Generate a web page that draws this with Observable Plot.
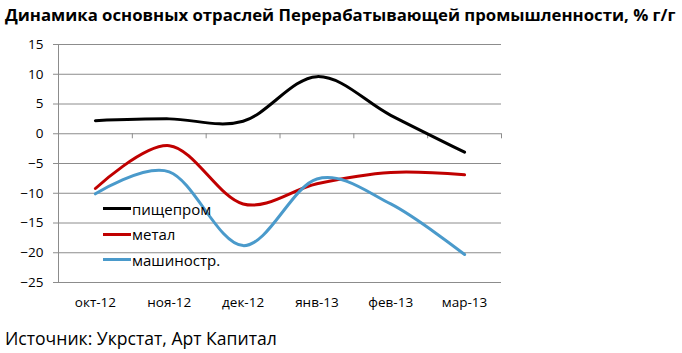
<!DOCTYPE html>
<html>
<head>
<meta charset="utf-8">
<script src="https://cdn.jsdelivr.net/npm/d3@7"></script>
<script src="https://cdn.jsdelivr.net/npm/@observablehq/plot@0.6"></script>
<style>
  body { margin: 0; background: #fff; width: 682px; height: 353px; overflow: hidden; position: relative; font-family: "Open Sans", "Noto Sans", sans-serif; }
  #title { position: absolute; left: 5px; top: 3px; font-weight: bold; font-size: 16px; white-space: nowrap; color: #000; }
  #chart { position: absolute; left: 0; top: 30px; }
  #caption { position: absolute; left: 5px; top: 326px; font-size: 15px; white-space: nowrap; color: #000; }
  #legend { position: absolute; left: 103px; top: 196px; font-size: 15px; color: #000; }
  #legend .row { display: flex; align-items: center; height: 25.5px; }
  #legend .sw { width: 28px; height: 3px; margin-right: 1px; }
</style>
</head>
<body>
<div id="title">Динамика основных отраслей Перерабатывающей промышленности, % г/г</div>
<div id="chart"></div>
<div id="legend"></div>
<div id="caption">Источник: Укрстат, Арт Капитал</div>
<script>
const categories = ["окт-12", "ноя-12", "дек-12", "янв-13", "фев-13", "мар-13"];
const seriesNames = ["пищепром", "метал", "машиностр."];
const pishcheprom = [2.2, 2.5, 2.1, 9.6, 3.1, -3.1];
const metal = [-9.2, -2.0, -11.8, -8.4, -6.5, -6.9];
const mashinostr = [-10.1, -6.4, -18.8, -7.6, -11.8, -20.3];
const yTicks = [15, 10, 5, 0, -5, -10, -15, -20, -25];
const colors = ["#000000", "#C00000", "#4A9ACB"];

const seriesValues = [pishcheprom, metal, mashinostr];
const data = [];
seriesNames.forEach((s, k) => seriesValues[k].forEach((v, i) => data.push({series: s, i, value: v})));
const boundaries = d3.range(-0.5, categories.length, 1);
const idx = d3.range(categories.length);

const plot = Plot.plot({
  width: 682,
  height: 290,
  marginLeft: 58,
  marginRight: 181,
  marginTop: 14,
  marginBottom: 38,
  style: {fontFamily: "'Open Sans', 'Noto Sans', sans-serif", fontSize: "13.5px", color: "#000", background: "transparent"},
  x: {type: "linear", domain: [-0.5, categories.length - 0.5]},
  y: {type: "linear", domain: [-25, 15]},
  color: {domain: seriesNames, range: colors},
  marks: [
    Plot.ruleY(yTicks, {stroke: "#8c8c8c", strokeWidth: 1, strokeOpacity: 1}),
    Plot.ruleX([-0.5], {y1: -25, y2: 15, stroke: "#8c8c8c"}),
    Plot.ruleX(boundaries, {y1: 0, y2: -0.85, stroke: "#8c8c8c"}),
    Plot.axisY({ticks: yTicks, tickSize: 5, tickPadding: 10, stroke: "#8c8c8c", strokeOpacity: 1, fill: "#000", label: null}),
    Plot.axisX({ticks: idx, tickSize: 0, tickPadding: 15, tickFormat: i => categories[i], fill: "#000", label: null}),
    Plot.line(data, {x: "i", y: "value", z: "series", stroke: "series", strokeWidth: 3, curve: "cardinal", tension: 0})
  ]
});
document.getElementById("chart").appendChild(plot);

const legend = document.getElementById("legend");
seriesNames.forEach((s, k) => {
  const row = document.createElement("div");
  row.className = "row";
  const sw = document.createElement("span");
  sw.className = "sw";
  sw.style.background = colors[k];
  const lab = document.createElement("span");
  lab.textContent = s;
  row.appendChild(sw); row.appendChild(lab);
  legend.appendChild(row);
});

// fit title/caption width to reference
const t = document.getElementById("title");
t.style.fontSize = (16 * 671 / t.getBoundingClientRect().width) + "px";
const c = document.getElementById("caption");
c.style.fontSize = (15 * 272 / c.getBoundingClientRect().width) + "px";
</script>
</body>
</html>
